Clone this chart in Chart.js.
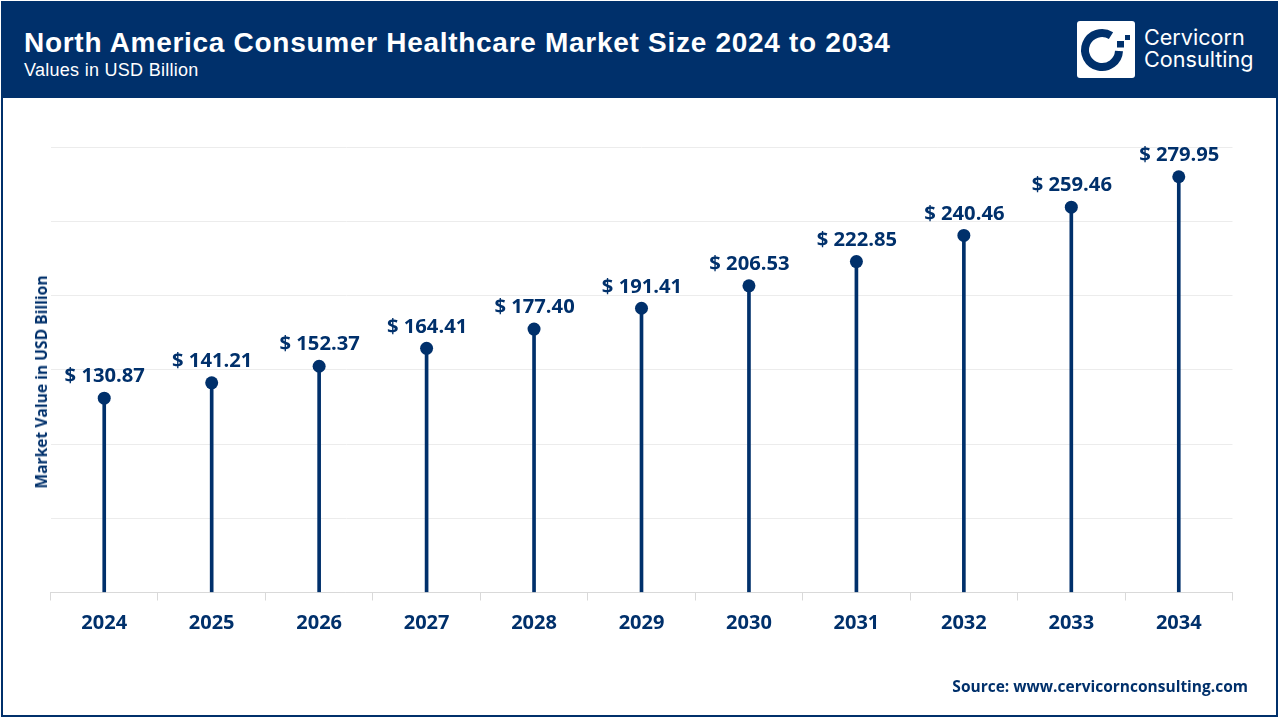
<!DOCTYPE html>
<html>
<head>
<meta charset="utf-8">
<script src="https://cdn.jsdelivr.net/npm/chart.js@4"></script>
<style>
html,body{margin:0;padding:0;background:#fff;width:1280px;height:720px;overflow:hidden}
#frame{position:absolute;left:1px;top:1px;width:1277px;height:716px;box-sizing:border-box;border:2px solid #00306b;border-top:none}
#header{position:absolute;left:1px;top:1px;width:1277px;height:96.5px;background:#00306b}
#title{position:absolute;left:24px;top:26px;font:bold 28px "Liberation Sans",Arial,sans-serif;color:#fff;letter-spacing:.71px;white-space:nowrap;line-height:34px}
#sub{position:absolute;left:24px;top:60px;font:18px "Liberation Sans",Arial,sans-serif;color:#fff;letter-spacing:.28px;white-space:nowrap;line-height:20px}
#logo{position:absolute;left:1077px;top:21px}
.lt{position:absolute;left:1144px;font:400 21.6px Inter,sans-serif;color:#fff;white-space:nowrap;line-height:24px}
#ytitle{position:absolute;left:40.5px;top:381.5px;transform:translate(-50%,-50%) rotate(-90deg);font:bold 15.6px "Open Sans",sans-serif;color:#00306b;white-space:nowrap}
#source{position:absolute;right:32px;top:676px;font:bold 15.5px "Open Sans",sans-serif;color:#00306b;white-space:nowrap;line-height:20px}
canvas{position:absolute;left:0;top:0}
</style>
</head>
<body>
<canvas id="c" width="1280" height="720"></canvas>
<div id="frame"></div>
<div id="header"></div>
<div id="title">North America Consumer Healthcare Market Size 2024 to 2034</div>
<div id="sub">Values in USD Billion</div>
<svg id="logo" width="58" height="58" viewBox="0 0 58 58">
  <rect width="58" height="57" rx="3" fill="#fff"/>
  <path d="M34 14.6 A17 17 0 1 0 42 30" fill="none" stroke="#00306b" stroke-width="8"/>
  <rect x="40" y="20" width="7" height="6.5" fill="#00306b"/>
  <rect x="48" y="14" width="5" height="5" fill="#00306b"/>
</svg>
<div class="lt" style="top:25px">Cervicorn</div>
<div class="lt" style="top:47px">Consulting</div>
<div id="ytitle">Market Value in USD Billion</div>
<div id="source">Source: www.cervicornconsulting.com</div>
<script>
const years = ["2024","2025","2026","2027","2028","2029","2030","2031","2032","2033","2034"];
const marketValues = [130.87,141.21,152.37,164.41,177.40,191.41,206.53,222.85,240.46,259.46,279.95];
const navy = "#00306b";

const valueLabels = {
  id: "valueLabels",
  afterDatasetsDraw(chart) {
    const { ctx, scales: { x, y } } = chart;
    ctx.save();
    ctx.font = 'bold 20.2px "Open Sans", sans-serif';
    ctx.fillStyle = navy;
    ctx.textAlign = "center";
    ctx.textBaseline = "middle";
    marketValues.forEach((v, i) => {
      ctx.fillText("$ " + v.toFixed(2), x.getPixelForValue(i) + 0.5, y.getPixelForValue(v) - 21.5);
    });
    ctx.restore();
  }
};

new Chart(document.getElementById("c"), {
  data: {
    labels: years,
    datasets: [
      { type: "line", data: marketValues, showLine: false, pointRadius: 6.5, pointHoverRadius: 6.5,
        pointBackgroundColor: navy, pointBorderColor: navy, pointBorderWidth: 0, order: 0 },
      { type: "bar", data: marketValues, backgroundColor: navy, barThickness: 3, order: 1 }
    ]
  },
  options: {
    responsive: false,
    animation: false,
    devicePixelRatio: 1,
    layout: { padding: { left: 50.5, right: 47.5, top: 147, bottom: 87.5 } },
    plugins: { legend: { display: false }, tooltip: { enabled: false } },
    scales: {
      x: {
        offset: true,
        afterFit(s) { s.height = 40; },
        grid: { offset: true, drawOnChartArea: false, drawTicks: true, tickLength: 8, color: "#d9d9d9", lineWidth: 1 },
        border: { color: "#d9d9d9", width: 1 },
        ticks: { color: navy, padding: 11, maxRotation: 0, font: { family: '"Open Sans", sans-serif', weight: "bold", size: 20 } }
      },
      y: {
        min: 0, max: 300,
        afterFit(s) { s.width = 0; },
        border: { display: false },
        grid: { color: "#ececec", lineWidth: 1, drawTicks: false },
        ticks: { display: false, stepSize: 50 }
      }
    }
  },
  plugins: [valueLabels]
});
</script>
</body>
</html>
